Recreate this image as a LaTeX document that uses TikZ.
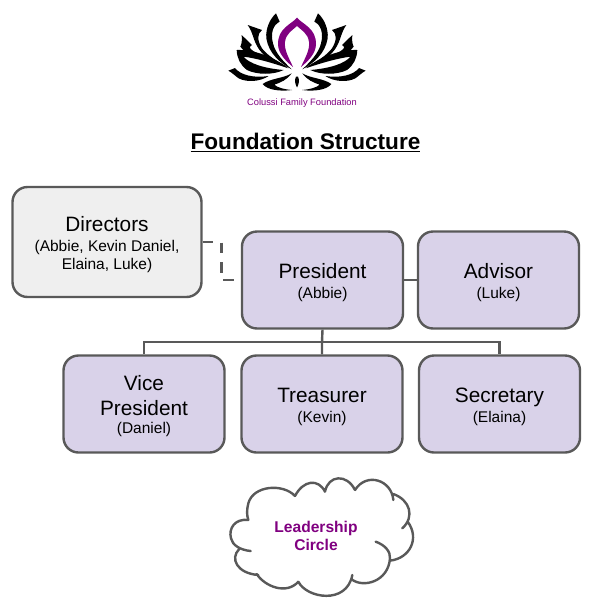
\documentclass[tikz,border=0pt]{standalone}
\usepackage{fontspec}
\setmainfont{Liberation Sans}
\usetikzlibrary{positioning}
\definecolor{boxline}{HTML}{595959}
\definecolor{boxfill}{HTML}{D9D2E9}
\definecolor{dirfill}{HTML}{EFEFEF}
\definecolor{lotus}{HTML}{800080}
\newcommand{\rolename}{\fontsize{20.8}{24}\selectfont}
\newcommand{\rolesub}{\fontsize{15.5}{18}\selectfont}
\newcommand{\toppad}{\rule{0pt}{20pt}}
\tikzset{
  rolebox/.style={draw=boxline,line width=2.4pt,rounded corners=15pt,fill=boxfill,minimum width=161pt,minimum height=97pt,align=center,text=black,inner sep=0pt,font=\fontsize{15.5}{20}\selectfont},
  link/.style={draw=boxline,line width=2.4pt},
  petal/.style={fill=black,draw=none}
}
\begin{document}
\begin{tikzpicture}[x=1pt,y=-1pt]
  \useasboundingbox (0,0) rectangle (594,614);
  % logo, one half and its mirror image about x=297
  \foreach \sx in {1,-1}{
    \begin{scope}[shift={(297,10)},xscale=\sx/3,yscale=1/3]
      \fill[lotus] (0,23) .. controls (-18,44) and (-57,54) .. (-57,102) .. controls (-57,132) and (-30,156) .. (-12,171) .. controls (-24,144) and (-39,120) .. (-36,96) .. controls (-33,69) and (-12,60) .. (0,48) -- cycle;
      \fill[petal] (-63,10) -- (-52,35) .. controls (-72,45) and (-80,70) .. (-72,100) .. controls (-65,130) and (-40,155) .. (-16,178) .. controls (-50,160) and (-85,130) .. (-92,85) .. controls (-95,55) and (-80,25) .. (-63,10) -- cycle;
      \fill[petal] (-148,45) -- (-105,60) .. controls (-120,72) and (-120,90) .. (-105,115) .. controls (-90,135) and (-60,155) .. (-26,172) .. controls (-70,160) and (-110,140) .. (-128,90) .. controls (-134,72) and (-140,55) .. (-148,45) -- cycle;
      \fill[petal] (-166,75) -- (-135,105) .. controls (-150,110) and (-140,125) .. (-90,140) -- (-50,160) .. controls (-100,150) and (-150,140) .. (-170,110) .. controls (-165,100) and (-165,88) .. (-166,75) -- cycle;
      \fill[petal] (-181,120) .. controls (-130,118) and (-70,140) .. (-26,175) .. controls (-70,160) and (-120,145) .. (-160,140) .. controls (-145,160) and (-100,175) .. (-40,180) .. controls (-70,195) and (-120,195) .. (-150,180) .. controls (-170,165) and (-180,145) .. (-181,120) -- cycle;
      \fill[petal] (-206,182) -- (-186,174) .. controls (-170,195) and (-130,205) .. (-85,198) .. controls (-110,215) and (-150,218) .. (-175,205) .. controls (-185,198) and (-195,188) .. (-206,182) -- cycle;
      \fill[petal] (-16,190) .. controls (-40,205) and (-80,205) .. (-103,222) .. controls (-90,240) and (-50,245) .. (-15,240) .. controls (-40,238) and (-60,232) .. (-68,224) .. controls (-50,218) and (-30,210) .. (-16,190) -- cycle;
      \fill[petal] (-3,200) .. controls (-8,210) and (-6,222) .. (0,232) -- (0,200) -- cycle;
    \end{scope}
  }
  \node[text=lotus,font=\fontsize{9.3}{11}\selectfont] (logotext) at (302,103.5) {Colussi Family Foundation};
  \node[font=\bfseries\fontsize{22.6}{26}\selectfont,inner sep=0pt] (title) at (305.5,142) {\underline{Foundation Structure}};
  % boxes
  \node[rolebox,fill=dirfill,minimum width=189pt,minimum height=110pt] (directors) at (107,242) {\toppad\rolename Directors\\\rolesub (Abbie, Kevin Daniel,\\[-2pt]\rolesub Elaina, Luke)};
  \node[rolebox] (president) at (322.5,280) {\toppad\rolename President\\\rolesub (Abbie)};
  \node[rolebox] (advisor) at (498.5,280) {\toppad\rolename Advisor\\\rolesub (Luke)};
  \node[rolebox] (vice) at (144,404) {\toppad\rolename Vice\\[5pt]\rolename President\\[-2pt]\rolesub (Daniel)};
  \node[rolebox] (treasurer) at (322,404) {\toppad\rolename Treasurer\\\rolesub (Kevin)};
  \node[rolebox] (secretary) at (499.5,404) {\toppad\rolename Secretary\\\rolesub (Elaina)};
  % connectors
  \coordinate (bus) at (322,342);
  \coordinate (dashcorner) at (221.5,280);
  \draw[link,dash pattern=on 10.5pt off 9pt] (directors.east) -| (dashcorner) -- (president.west);
  \draw[link] (president) -- (advisor);
  \draw[link] (president.south) -- (bus) -- (treasurer.north);
  \draw[link] (vice.north) |- (bus) -| (secretary.north);
  % cloud
  \begin{scope}[shift={(215,470)},x=1/3*1pt,y=-1/3*1pt]
    \draw[link,line cap=round]
      (240,78) .. controls (205,40) and (115,45) .. (100,100) .. controls (95,120) and (95,135) .. (100,150)
      (100,150) .. controls (60,145) and (40,175) .. (48,205) .. controls (52,225) and (75,240) .. (107,243)
      (72,238) .. controls (45,265) and (65,310) .. (130,315)
      (125,312) .. controls (150,350) and (215,375) .. (250,335)
      (250,335) .. controls (275,385) and (395,405) .. (412,315)
      (410,328) .. controls (445,355) and (520,335) .. (525,265) .. controls (527,245) and (510,225) .. (482,215)
      (525,272) .. controls (585,265) and (615,205) .. (578,155)
      (562,175) .. controls (600,140) and (585,90) .. (535,72)
      (535,90) .. controls (530,30) and (455,5) .. (420,60)
      (420,60) .. controls (395,10) and (340,15) .. (330,65)
      (330,65) .. controls (310,25) and (265,30) .. (240,78);
  \end{scope}
  \node[text=lotus,font=\bfseries\fontsize{15.6}{18.5}\selectfont,align=center,inner sep=0pt] (circle) at (316,536) {\fontsize{15.6}{18.5}\selectfont Leadership\\\fontsize{15.6}{18.5}\selectfont Circle};
\end{tikzpicture}
\end{document}
